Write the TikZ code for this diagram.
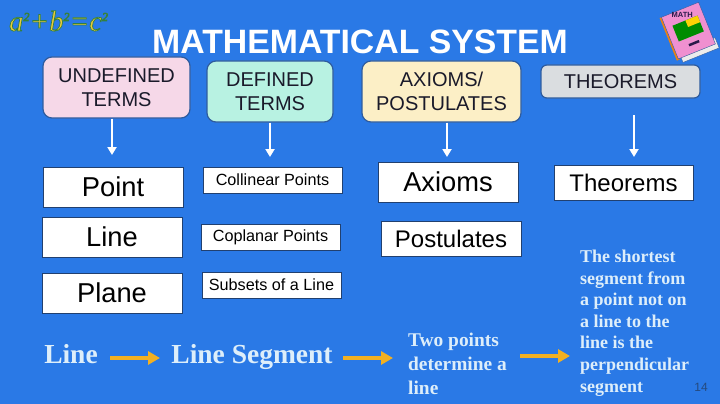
\documentclass[tikz,border=0pt]{standalone}
\usepackage{fontspec}
\setmainfont{Liberation Sans}
\newfontfamily\serifb{Liberation Serif}
\usetikzlibrary{arrows.meta}
\definecolor{bgblue}{HTML}{2A79E6}
\definecolor{boxedge}{HTML}{2F5C9E}
\definecolor{pinkbox}{HTML}{F6D8E8}
\definecolor{tealbox}{HTML}{B8F2E2}
\definecolor{creambox}{HTML}{FCEFC6}
\definecolor{greybox}{HTML}{DADDE0}
\definecolor{goldarrow}{HTML}{F2B022}
\definecolor{paletext}{HTML}{DDEEFA}
\definecolor{inktext}{HTML}{1A1A2A}
\definecolor{booktext}{HTML}{2A1A4A}
\definecolor{bookpink}{HTML}{F090D0}
\definecolor{formulayellow}{HTML}{EBCB3A}
\tikzset{
  x=1pt,y=-1pt,
  head/.style={rounded corners=9pt,draw=boxedge,line width=1.2pt,text=inktext,align=center,font=\fontsize{20}{24}\selectfont,inner sep=0pt},
  card/.style={draw=boxedge!70!black,line width=1pt,fill=white,text=black,inner sep=0pt},
  wbig/.style={card,font=\fontsize{27.3}{30}\selectfont},
  wmid/.style={card,font=\fontsize{24}{28}\selectfont},
  wsmall/.style={card,font=\fontsize{16.2}{19}\selectfont},
  downarrow/.style={draw=white,line width=2pt,-{Triangle[length=8pt,width=9pt]}},
  goldarr/.style={draw=goldarrow,line width=3.4pt,-{Triangle[length=12pt,width=13pt]}},
  sertext/.style={text=paletext,inner sep=0pt,font=\serifb\bfseries\fontsize{27.5}{30}\selectfont},
  sersmall/.style={text=paletext,inner sep=0pt,align=left,font=\serifb\bfseries\fontsize{19.4}{24}\selectfont},
  sertiny/.style={text=paletext,inner sep=0pt,align=left,font=\serifb\bfseries\fontsize{18}{21.6}\selectfont},
}
\newcommand{\boxat}[6]{\node[#1,minimum width=#4 pt,minimum height=#5 pt] (#2) at (#3) {#6};}
\newcommand{\expo}{\raisebox{10pt}{\fontsize{12}{12}\selectfont 2}}
\begin{document}
\begin{tikzpicture}
\useasboundingbox (0,0) rectangle (720,404);
\fill[bgblue] (0,0) rectangle (720,404);
\node[text=white,inner sep=0pt,font=\bfseries\fontsize{33.8}{36}\selectfont] (title) at (360,42) {MATHEMATICAL SYSTEM};
% formula
\node[inner sep=0pt,text=formulayellow,font=\serifb\itshape\fontsize{29}{31}\selectfont] (formula) at (58.5,21) {\special{pdf:code 2 Tr 0.7 w 0.2 0.5 0.25 RG}a\expo+b\expo=c\expo\special{pdf:code 0 Tr}};
% book
\begin{scope}[shift={(689,32)},rotate=22]
  \fill[white!85!gray,draw=boxedge] (-17,15) rectangle (22,26);
  \fill[orange!70!brown] (-22,-24) rectangle (-19,22);
  \fill[bookpink,draw=boxedge] (-20,-24) rectangle (20,21);
  \node[inner sep=0pt,text=booktext,font=\bfseries\fontsize{7.5}{8}\selectfont] (booktitle) at (0,-18) {MATH};
  \fill[green!55!black] (-13,-12) rectangle (14,5);
  \fill[yellow!70!orange] (1,-12) rectangle (14,-5);
  \fill[booktext] (-5,11) rectangle (6,13.5);
\end{scope}
% headers
\node[head,fill=pinkbox,minimum width=147pt,minimum height=61pt] (undef) at (116.5,87.5) {UNDEFINED\\TERMS};
\node[head,fill=tealbox,minimum width=126pt,minimum height=61pt] (def) at (270,91.5) {DEFINED\\TERMS};
\node[head,fill=creambox,minimum width=159pt,minimum height=61pt] (axp) at (441.5,91.5) {AXIOMS/\\POSTULATES};
\node[head,fill=greybox,rounded corners=6pt,minimum width=159pt,minimum height=33pt] (thm) at (620.5,81.5) {THEOREMS};
% cards
\boxat{wbig}{point}{113,187}{140}{40}{Point}
\boxat{wbig}{line}{112,237}{140}{40}{Line}
\boxat{wbig}{plane}{112,293}{140}{40}{Plane}
\boxat{wsmall}{coll}{272.5,180}{139}{26}{Collinear Points}
\boxat{wsmall}{copl}{270.5,237}{139}{26}{Coplanar Points}
\boxat{wsmall}{subs}{271.5,285}{139}{26}{Subsets of a Line}
\boxat{wbig}{axi}{448,182}{140}{40}{Axioms}
\boxat{wmid}{post}{451,238.5}{140}{35}{Postulates}
\boxat{wmid}{theo}{623.5,182.5}{139}{35}{Theorems}
% white arrows
\coordinate (d1) at (112,155);
\coordinate (d2) at (270,157);
\coordinate (d3) at (447,157);
\coordinate (s4) at (634,115);
\coordinate (d4) at (634,157);
\draw[downarrow] (undef.south -| d1) -- (d1);
\draw[downarrow] (def.south -| d2) -- (d2);
\draw[downarrow] (axp.south -| d3) -- (d3);
\draw[downarrow] (s4) -- (d4);
% bottom chain
\node[sertext] (l1) at (71,354) {Line};
\node[sertext] (l2) at (252,357) {Line Segment};
\node[sersmall,anchor=west] (l3) at (408,364) {Two points\\determine a\\line};
\node[sertiny,anchor=west] (l4) at (580,323) {The shortest\\segment from\\a point not on\\a line to the\\line is the\\perpendicular\\segment};
\node[inner sep=0pt,text=boxedge!80!black,font=\fontsize{12}{14}\selectfont] (pg) at (701,387) {14};
\coordinate (a1) at (110,358); \coordinate (b1) at (160,358);
\coordinate (a2) at (343,358); \coordinate (b2) at (393,358);
\coordinate (a3) at (520,356); \coordinate (b3) at (570,356);
\draw[goldarr] (a1) -- (b1);
\draw[goldarr] (a2) -- (b2);
\draw[goldarr] (a3) -- (b3);
\end{tikzpicture}
\end{document}
